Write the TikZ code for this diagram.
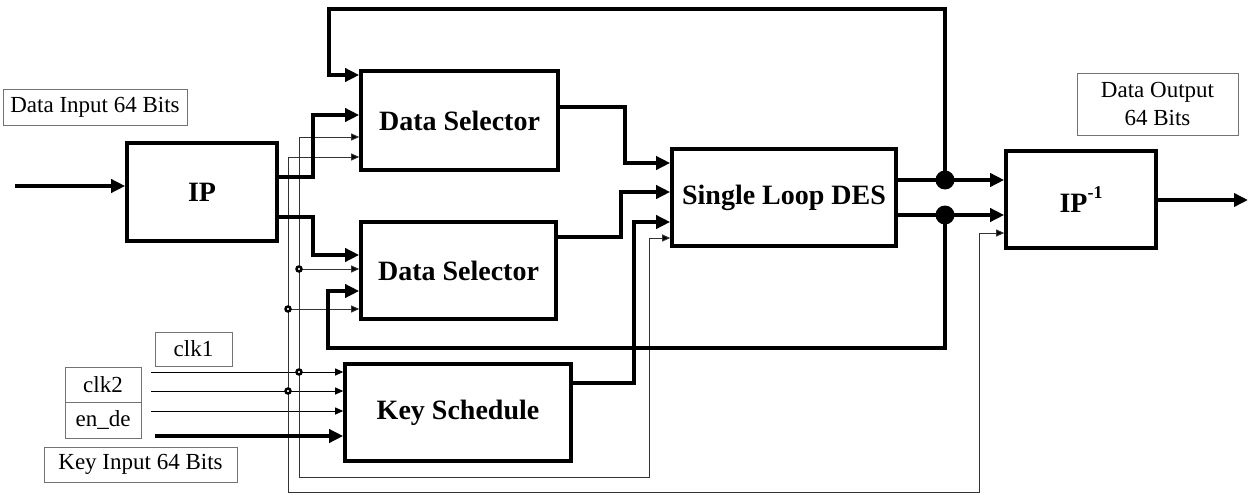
\documentclass[tikz,border=0pt]{standalone}
\usepackage{fontspec}
\setmainfont{Liberation Serif}
\usetikzlibrary{arrows.meta}

\tikzset{
  block/.style={draw, line width=3.6pt, fill=white, inner sep=0pt,
    font=\fontsize{28}{30}\selectfont\bfseries},
  tag/.style={draw=black!55, line width=0.9pt, fill=white, inner sep=0pt,
    align=center, font=\fontsize{23}{28}\selectfont},
  bus/.style={line width=4pt, -{Triangle[length=14pt,width=13pt]}},
  wire/.style={line width=1pt, -{Triangle[length=8pt,width=7pt]}},
  ctrl/.style={line width=0.9pt, draw=black!80, -{Triangle[length=8pt,width=7pt,fill=black]}},
  bigdot/.style={circle, fill=black, inner sep=0pt, minimum size=19pt},
  tap/.style={circle, draw, line width=2.4pt, fill=white, inner sep=0pt, minimum size=5pt},
}

\begin{document}
\begin{tikzpicture}[x=1pt, y=-1pt]
\useasboundingbox (0,0) rectangle (1253,495);

% ---- blocks ----
\node[block, minimum width=150pt, minimum height=98pt] (IP)    at (202,192)   {IP};
\node[block, minimum width=197pt, minimum height=99pt] (DS1)   at (459.5,120.5) {Data Selector};
\node[block, minimum width=195pt, minimum height=97pt] (DS2)   at (458.5,270.5) {Data Selector};
\node[block, minimum width=226pt, minimum height=97pt] (KS)    at (458,412.5) {Key Schedule};
\node[block, minimum width=224pt, minimum height=97pt] (SLD)   at (784,197.5) {Single Loop DES};
\node[block, minimum width=150pt, minimum height=97pt] (IPinv) at (1081,199.5) {IP\raisebox{0.5em}{\fontsize{18}{18}\selectfont -1}};

% ---- text tags ----
\node[tag, minimum width=184pt, minimum height=36pt] (tdin)  at (95,107)      {Data Input 64 Bits};
\node[tag, minimum width=161pt, minimum height=62pt] (tdout) at (1157.5,104)  {Data Output\\64 Bits};
\node[tag, minimum width=77pt,  minimum height=34pt] (tclk1) at (193.5,349)   {clk1};
\node[tag, minimum width=76pt,  minimum height=35pt] (tclk2) at (103,384.5)   {clk2};
\node[tag, minimum width=76pt,  minimum height=36pt] (ten)   at (103,420)     {en\_de};
\node[tag, minimum width=193pt, minimum height=35pt] (tkey)  at (140.5,464.5) {Key Input 64 Bits};

% ---- free ends ----
\coordinate (din)   at (15,186);
\coordinate (dout)  at (1248,200);
\coordinate (clk1)  at (151,372);
\coordinate (clk2)  at (151,391);
\coordinate (ende)  at (151,411);
\coordinate (kin)   at (155,436);

% ---- junctions ----
\coordinate (c1) at (299,372);
\coordinate (c2) at (288,391);
\coordinate (c3) at (299,269);
\coordinate (c4) at (288,309);
\coordinate (j1) at (945,180);
\coordinate (j2) at (945,215);

% ---- control wires ----
\draw[wire] (clk1) -- (KS.west |- clk1);
\draw[wire] (clk2) -- (KS.west |- clk2);
\draw[wire] (ende) -- (KS.west |- ende);
\draw[ctrl] (c1) -- (299,137) -- (DS1.west |- 0,137);
\draw[ctrl] (c3) -- (DS2.west |- c3);
\draw[ctrl] (c1) -- (299,477) -| (649,238) -- (SLD.west |- 0,238);
\draw[ctrl] (c2) -- (288,157) -- (DS1.west |- 0,157);
\draw[ctrl] (c4) -- (DS2.west |- c4);
\draw[ctrl] (c2) -- (288,492) -| (979,233) -- (IPinv.west |- 0,233);

% ---- data buses ----
\draw[bus] (din) -- (IP.west |- din);
\draw[bus] (kin) -- (KS.west |- kin);
\draw[bus] (IP.east |- 0,177) -| (313,115) -- (DS1.west |- 0,115);
\draw[bus] (IP.east |- 0,217) -| (313,255) -- (DS2.west |- 0,255);
\draw[bus] (DS1.east |- 0,107) -| (625,163) -- (SLD.west |- 0,163);
\draw[bus] (DS2.east |- 0,237) -| (621,192) -- (SLD.west |- 0,192);
\draw[bus] (KS.east |- 0,383) -| (634,222) -- (SLD.west |- 0,222);
\draw[bus] (SLD.east |- j1) -- (IPinv.west |- j1);
\draw[bus] (SLD.east |- j2) -- (IPinv.west |- j2);
\draw[bus] (j1) |- (329,9) |- (DS1.west |- 0,75);
\draw[bus] (j2) -- (945,348) -| (328,291) -- (DS2.west |- 0,291);
\draw[bus] (IPinv.east |- dout) -- (dout);

% ---- junction dots ----
\node[bigdot] at (j1) {};
\node[bigdot] at (j2) {};
\foreach \p in {c1,c2,c3,c4} \node[tap] at (\p) {};
\end{tikzpicture}
\end{document}
